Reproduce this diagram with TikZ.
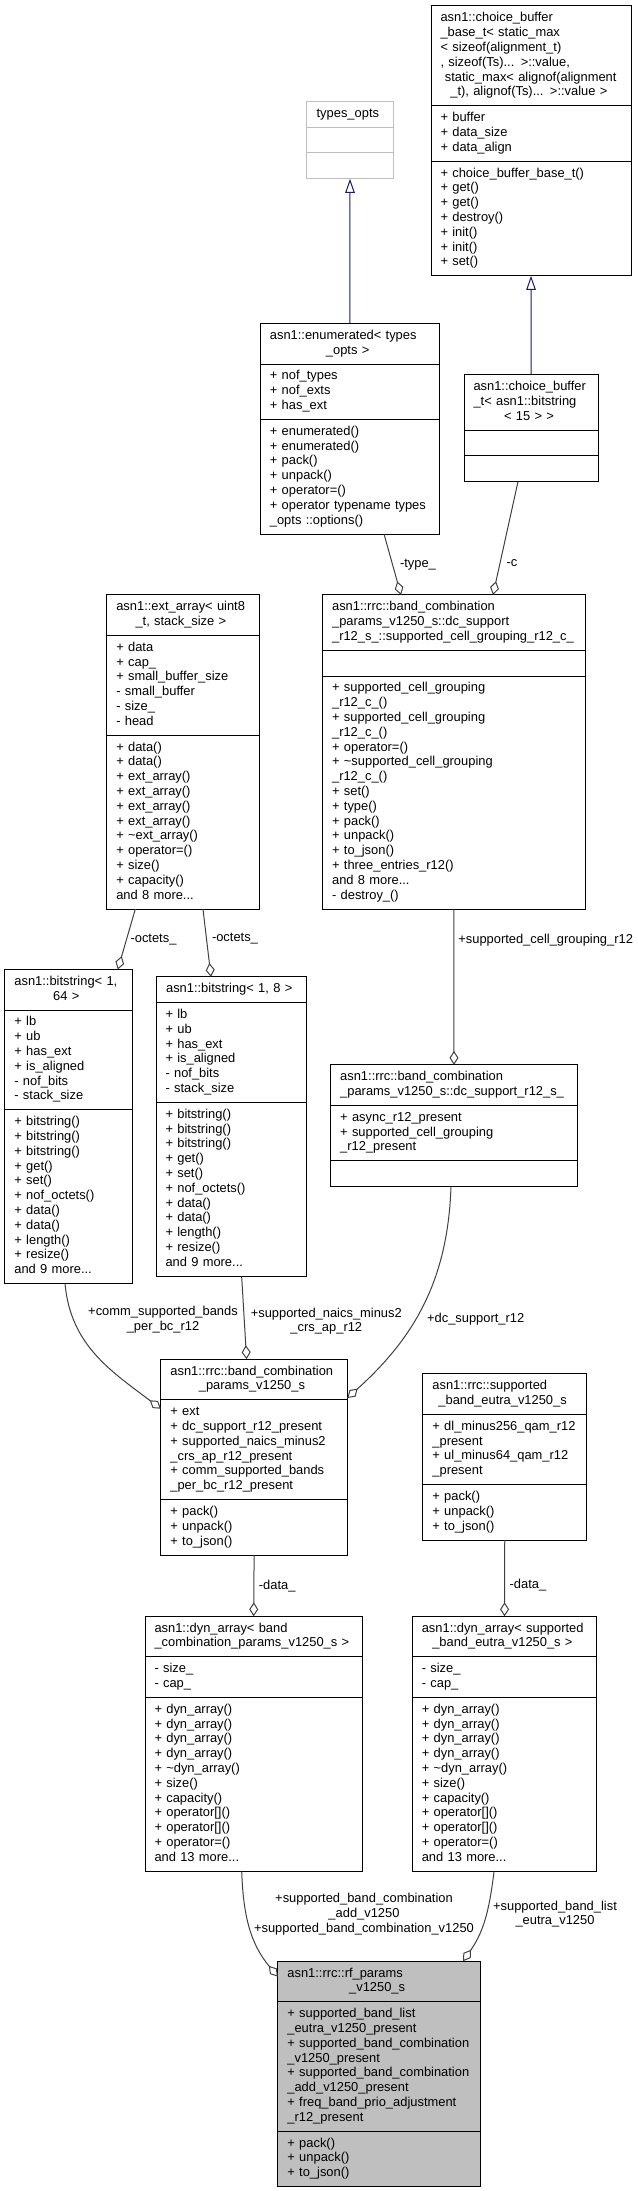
\documentclass[tikz,border=0pt]{standalone}
\usepackage{fontspec}
\setmainfont{Liberation Sans}
\usetikzlibrary{shapes.multipart, arrows.meta}

\definecolor{grey75}{HTML}{BFBFBF}
\definecolor{grey25}{HTML}{404040}
\definecolor{navyblue}{HTML}{191970}

% the last line of a class title is centred
\newcommand{\lastln}[1]{\hspace*{\fill}\mbox{#1}\hspace*{\fill}}
\newcommand{\clsfont}{\fontsize{12.9}{14.8}\selectfont}

\begin{document}
\begin{tikzpicture}[x=1pt, y=-1pt, line width=1pt]
    \useasboundingbox (0,0) rectangle (637,2191);

    \tikzstyle{cls} = [rectangle split, rectangle split parts=3, draw=black, fill=white,
        anchor=north west, align=left, inner xsep=9.5pt, inner ysep=5pt, outer sep=0pt,
        font=\clsfont, execute at begin node=\strut, execute at end node=\strut]
    \tikzstyle{lbl} = [font=\clsfont, inner sep=0pt, align=center]
    \tikzstyle{uses} = [draw=grey25, -{Diamond[open, length=14pt, width=9pt]}]
    \tikzstyle{isa} = [draw=navyblue, -{Triangle[open, length=14pt, width=9.5pt]}]

    % classes
    \node[cls, draw=grey75, text width=67.6pt] (typesopts) at (306.7,101.4)
        {\lastln{types\_opts} \nodepart{two} \nodepart{three}};

    \node[cls, text width=181pt] (cbbase) at (431,6)
        {asn1::choice\_buffer\\\_base\_t< static\_max\\< sizeof(alignment\_t)\\, sizeof(Ts)... >::value,\\\ static\_max< alignof(alignment\\\lastln{\_t), alignof(Ts)... >::value >}
        \nodepart{two} + buffer\\+ data\_size\\+ data\_align
        \nodepart{three} + choice\_buffer\_base\_t()\\+ get()\\+ get()\\+ destroy()\\+ init()\\+ init()\\+ set()};

    \node[cls, text width=159.8pt] (enum) at (260.4,323.4)
        {asn1::enumerated< types\\\lastln{\_opts >}
        \nodepart{two} + nof\_types\\+ nof\_exts\\+ has\_ext
        \nodepart{three} + enumerated()\\+ enumerated()\\+ pack()\\+ unpack()\\+ operator=()\\+ operator typename types\\\_opts ::options()};

    \node[cls, text width=115.4pt] (cbt) at (464,374.6)
        {asn1::choice\_buffer\\\_t< asn1::bitstring\\\lastln{< 15 > >}
        \nodepart{two} \nodepart{three}};

    \node[cls, text width=133.4pt] (extarr) at (106.8,594.9)
        {asn1::ext\_array< uint8\\\lastln{\_t, stack\_size >}
        \nodepart{two} + data\\+ cap\_\\+ small\_buffer\_size\\- small\_buffer\\- size\_\\- head
        \nodepart{three} + data()\\+ data()\\+ ext\_array()\\+ ext\_array()\\+ ext\_array()\\+ ext\_array()\\+ \textasciitilde ext\_array()\\+ operator=()\\+ size()\\+ capacity()\\and 8 more...};

    \node[cls, text width=243.4pt] (cellgrp) at (322.6,594.9)
        {asn1::rrc::band\_combination\\\_params\_v1250\_s::dc\_support\\\lastln{\_r12\_s\_::supported\_cell\_grouping\_r12\_c\_}
        \nodepart{two}
        \nodepart{three} + supported\_cell\_grouping\\\_r12\_c\_()\\+ supported\_cell\_grouping\\\_r12\_c\_()\\+ operator=()\\+ \textasciitilde supported\_cell\_grouping\\\_r12\_c\_()\\+ set()\\+ type()\\+ pack()\\+ unpack()\\+ to\_json()\\+ three\_entries\_r12()\\and 8 more...\\- destroy\_()};

    \node[cls, text width=108.1pt] (bits64) at (4.9,969.5)
        {asn1::bitstring< 1,\\\lastln{64 >}
        \nodepart{two} + lb\\+ ub\\+ has\_ext\\+ is\_aligned\\- nof\_bits\\- stack\_size
        \nodepart{three} + bitstring()\\+ bitstring()\\+ bitstring()\\+ get()\\+ set()\\+ nof\_octets()\\+ data()\\+ data()\\+ length()\\+ resize()\\and 9 more...};

    \node[cls, text width=131.7pt] (bits8) at (156,976.9)
        {\lastln{asn1::bitstring< 1, 8 >}
        \nodepart{two} + lb\\+ ub\\+ has\_ext\\+ is\_aligned\\- nof\_bits\\- stack\_size
        \nodepart{three} + bitstring()\\+ bitstring()\\+ bitstring()\\+ get()\\+ set()\\+ nof\_octets()\\+ data()\\+ data()\\+ length()\\+ resize()\\and 9 more...};

    \node[cls, text width=227.6pt] (dcsup) at (330.7,1064.9)
        {asn1::rrc::band\_combination\\\lastln{\_params\_v1250\_s::dc\_support\_r12\_s\_}
        \nodepart{two} + async\_r12\_present\\+ supported\_cell\_grouping\\\_r12\_present
        \nodepart{three}};

    \node[cls, text width=167.4pt] (bcp) at (160.9,1359.2)
        {asn1::rrc::band\_combination\\\lastln{\_params\_v1250\_s}
        \nodepart{two} + ext\\+ dc\_support\_r12\_present\\+ supported\_naics\_minus2\\\_crs\_ap\_r12\_present\\+ comm\_supported\_bands\\\_per\_bc\_r12\_present
        \nodepart{three} + pack()\\+ unpack()\\+ to\_json()};

    \node[cls, text width=144.7pt] (eutra) at (422.9,1373.9)
        {asn1::rrc::supported\\\lastln{\_band\_eutra\_v1250\_s}
        \nodepart{two} + dl\_minus256\_qam\_r12\\\_present\\+ ul\_minus64\_qam\_r12\\\_present
        \nodepart{three} + pack()\\+ unpack()\\+ to\_json()};

    \node[cls, text width=198.4pt] (dynband) at (145,1616.3)
        {asn1::dyn\_array< band\\\lastln{\_combination\_params\_v1250\_s >}
        \nodepart{two} - size\_\\- cap\_
        \nodepart{three} + dyn\_array()\\+ dyn\_array()\\+ dyn\_array()\\+ dyn\_array()\\+ \textasciitilde dyn\_array()\\+ size()\\+ capacity()\\+ operator[]()\\+ operator[]()\\+ operator=()\\and 13 more...};

    \node[cls, text width=165.5pt] (dyneutra) at (412.3,1616.3)
        {asn1::dyn\_array< supported\\\lastln{\_band\_eutra\_v1250\_s >}
        \nodepart{two} - size\_\\- cap\_
        \nodepart{three} + dyn\_array()\\+ dyn\_array()\\+ dyn\_array()\\+ dyn\_array()\\+ \textasciitilde dyn\_array()\\+ size()\\+ capacity()\\+ operator[]()\\+ operator[]()\\+ operator=()\\and 13 more...};

    \node[cls, fill=grey75, text width=183.7pt] (rfp) at (277.9,1961.2)
        {asn1::rrc::rf\_params\\\lastln{\_v1250\_s}
        \nodepart{two} + supported\_band\_list\\\_eutra\_v1250\_present\\+ supported\_band\_combination\\\_v1250\_present\\+ supported\_band\_combination\\\_add\_v1250\_present\\+ freq\_band\_prio\_adjustment\\\_r12\_present
        \nodepart{three} + pack()\\+ unpack()\\+ to\_json()};

    % inheritance
    \draw[isa] (enum.north) -- (typesopts.south);
    \draw[isa] (cbt.north) -- (cbbase.south);

    % members
    \draw[uses] ([xshift=34.2pt]enum.south) -- node[lbl, right=7pt] (ltype) {-type\_} ([xshift=-52.8pt]cellgrp.north);
    \draw[uses] ([xshift=-13.2pt]cbt.south) -- node[lbl, pos=0.72, right=6pt] (lc) {-c} ([xshift=39.2pt]cellgrp.north);
    \draw[uses] ([xshift=-47.7pt]extarr.south) -- node[lbl, right=3.5pt] (loct1) {-octets\_} ([xshift=49.35pt]bits64.north);
    \draw[uses] ([xshift=20pt]extarr.south) -- node[lbl, pos=0.44, right=5pt] (loct2) {-octets\_} ([xshift=-20.35pt]bits8.north);
    \draw[uses] (cellgrp.south) -- node[lbl, pos=0.2, right=4pt] (lgrp) {+supported\_cell\_grouping\_r12} (dcsup.north);

    \draw[uses] ([xshift=-3.4pt]bits64.south) to[out=-85, in=143] ([yshift=-49.5pt]bcp.north west);
    \node[lbl] (lcomm) at (163,1319.5) {+comm\_supported\_bands\\\_per\_bc\_r12};
    \draw[uses] ([xshift=10.3pt]bits8.south) -- node[lbl, pos=0.54, right=6pt] (lnaics) {+supported\_naics\_minus2\\\_crs\_ap\_r12} ([xshift=-7.5pt]bcp.north);
    \draw[uses] ([xshift=-3pt]dcsup.south) to[out=-92, in=42] ([yshift=-38.8pt]bcp.north east);
    \node[lbl, anchor=west] (ldc) at (426.6,1319) {+dc\_support\_r12};

    \draw[uses] (bcp.south) -- node[lbl, right=4.5pt] (ldata1) {-data\_} (dynband.north);
    \draw[uses] (eutra.south) -- node[lbl, pos=0.585, right=4.5pt] (ldata2) {-data\_} (dyneutra.north);

    \draw[uses] ([xshift=-12pt]dynband.south) to[out=-88, in=130] ([yshift=-15.4pt]rfp.north west);
    \node[lbl] (lcombo) at (364,1914.4) {+supported\_band\_combination\\\_add\_v1250\\+supported\_band\_combination\_v1250};
    \draw[uses] ([xshift=-10.5pt]dyneutra.south) to[out=-97, in=55] ([xshift=83.75pt]rfp.north);
    \node[lbl] (leutra) at (555,1914) {+supported\_band\_list\\\_eutra\_v1250};
\end{tikzpicture}
\end{document}
